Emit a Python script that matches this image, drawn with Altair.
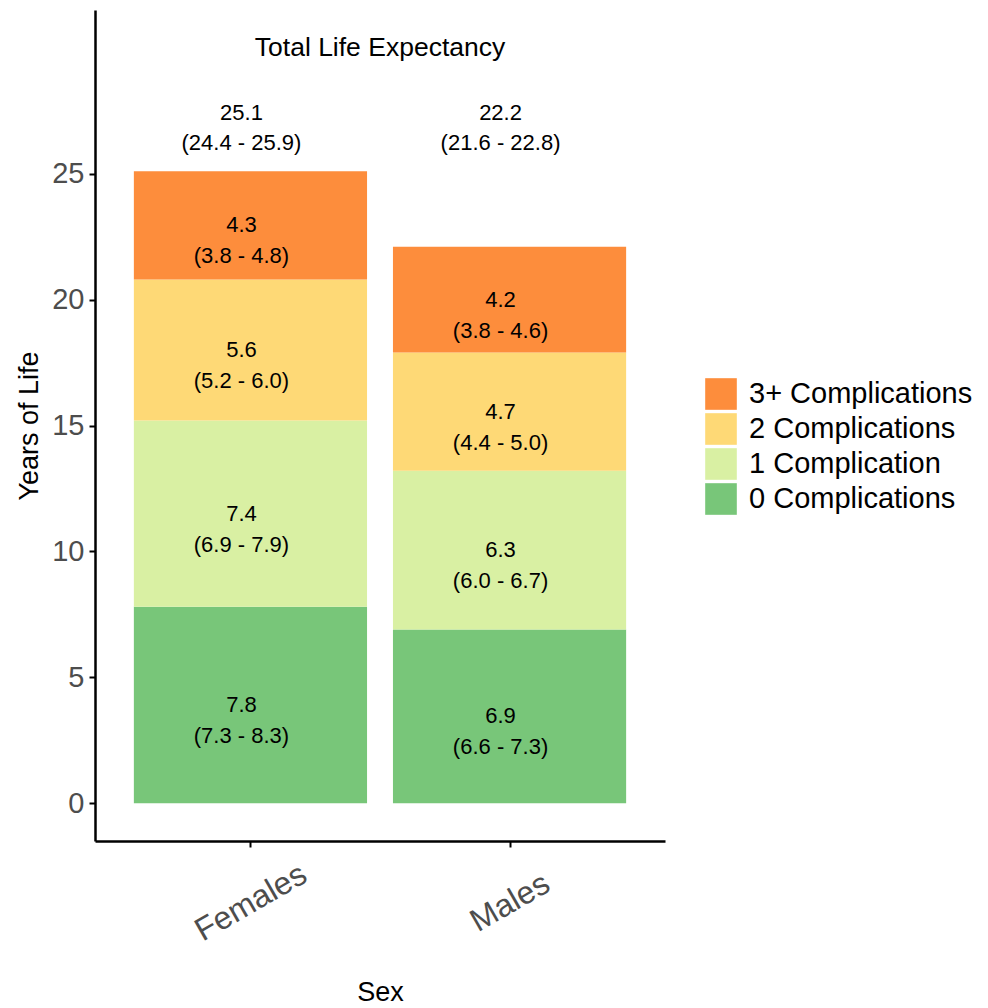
import json

import altair as alt
import pandas as pd

# Healthy-years decomposition by sex and number of complications
sexes = ["Females", "Males"]
levels = ["0 Complications", "1 Complication", "2 Complications", "3+ Complications"]
level_colors = ["#78C679", "#D9F0A3", "#FED976", "#FD8D3C"]

female_est = [7.8, 7.4, 5.6, 4.3]
female_lo = [7.3, 6.9, 5.2, 3.8]
female_hi = [8.3, 7.9, 6.0, 4.8]

male_est = [6.9, 6.3, 4.7, 4.2]
male_lo = [6.6, 6.0, 4.4, 3.8]
male_hi = [7.3, 6.7, 5.0, 4.6]

total_est = [25.1, 22.2]
total_lo = [24.4, 21.6]
total_hi = [25.9, 22.8]

y_ticks = [0, 5, 10, 15, 20, 25]
title_text = "Total Life Expectancy"
title_y = 30
total_label_y = 27.4

FONT = "Liberation Sans"
BAR_HALF = 0.45
W, H = 570, 831


def fmt_ci(lo, hi):
    return f"({lo:.1f} - {hi:.1f})"


rows = []
for i, (sex, est, lo, hi) in enumerate(
    zip(sexes, [female_est, male_est], [female_lo, male_lo], [female_hi, male_hi])
):
    base = 0.0
    for k, lev in enumerate(levels):
        top = base + est[k]
        rows.append(
            dict(
                sex=sex,
                pos=i + 1,
                level=lev,
                base=base,
                top=top,
                mid=(base + top) / 2,
                value=f"{est[k]:.1f}",
                ci=fmt_ci(lo[k], hi[k]),
            )
        )
        base = top
segments = pd.DataFrame(rows)

totals = pd.DataFrame(
    dict(
        pos=[i + 1 for i in range(len(sexes))],
        y=[total_label_y] * len(sexes),
        value=[f"{v:.1f}" for v in total_est],
        ci=[fmt_ci(a, b) for a, b in zip(total_lo, total_hi)],
    )
)

heading = pd.DataFrame(
    dict(pos=[(1 + len(sexes)) / 2], y=[title_y], text=[title_text])
)

x_scale = alt.Scale(domain=[0.4, len(sexes) + 0.6], nice=False, zero=False)
y_scale = alt.Scale(domain=[-1.5, 31.5], nice=False, zero=False)

x_axis = alt.Axis(
    title="Sex",
    values=[i + 1 for i in range(len(sexes))],
    labelExpr=f"{json.dumps(sexes)}[datum.value - 1]",
    labelAngle=-30,
    labelAlign="center",
    labelBaseline="middle",
    labelPadding=55,
    labelFontSize=32,
    labelColor="#4D4D4D",
    labelFont=FONT,
    labelFlush=False,
    labelOverlap=False,
    labelBound=False,
    tickSize=6,
    tickWidth=2,
    tickColor="black",
    domainColor="black",
    domainWidth=2.5,
    grid=False,
    titleFont=FONT,
    titleFontSize=27,
    titleFontWeight="normal",
    titleColor="black",
    titlePadding=33,
)

y_axis = alt.Axis(
    title="Years of Life",
    values=y_ticks,
    labelPadding=5,
    labelFontSize=29,
    labelColor="#4D4D4D",
    labelFont=FONT,
    labelFlush=False,
    labelOverlap=False,
    tickSize=6,
    tickWidth=2,
    tickColor="black",
    domainColor="black",
    domainWidth=2.5,
    grid=False,
    titleFont=FONT,
    titleFontSize=27,
    titleFontWeight="normal",
    titleColor="black",
    titlePadding=8,
)

bars = (
    alt.Chart(segments)
    .transform_calculate(x0=f"datum.pos - {BAR_HALF}", x1=f"datum.pos + {BAR_HALF}")
    .mark_rect()
    .encode(
        x=alt.X("x0:Q", scale=x_scale, axis=x_axis),
        x2="x1:Q",
        y=alt.Y("base:Q", scale=y_scale, axis=y_axis),
        y2="top:Q",
        color=alt.Color(
            "level:N",
            scale=alt.Scale(domain=levels[::-1], range=level_colors[::-1]),
            legend=alt.Legend(
                title=None,
                orient="none",
                legendX=610,
                legendY=368,
                padding=0,
                symbolType="square",
                symbolSize=1000,
                symbolStrokeWidth=0,
                rowPadding=3,
                labelOffset=12,
                labelLimit=0,
                labelFont=FONT,
                labelFontSize=29,
                labelColor="black",
            ),
        ),
    )
)

# labels sit slightly left of the bar centres
seg_text = dict(font=FONT, fontSize=22, color="black", align="center", baseline="middle", dx=-9)

seg_values = alt.Chart(segments).mark_text(**seg_text).encode(
    x=alt.X("pos:Q", scale=x_scale), y=alt.Y("mid:Q", scale=y_scale), text="value:N"
)
seg_cis = alt.Chart(segments).mark_text(dy=31, **seg_text).encode(
    x=alt.X("pos:Q", scale=x_scale), y=alt.Y("mid:Q", scale=y_scale), text="ci:N"
)
tot_values = alt.Chart(totals).mark_text(**seg_text).encode(
    x=alt.X("pos:Q", scale=x_scale), y=alt.Y("y:Q", scale=y_scale), text="value:N"
)
tot_cis = alt.Chart(totals).mark_text(dy=30, **seg_text).encode(
    x=alt.X("pos:Q", scale=x_scale), y=alt.Y("y:Q", scale=y_scale), text="ci:N"
)
head = alt.Chart(heading).mark_text(
    font=FONT, fontSize=26.5, color="black", align="center", baseline="middle"
).encode(x=alt.X("pos:Q", scale=x_scale), y=alt.Y("y:Q", scale=y_scale), text="text:N")

chart = (
    alt.layer(bars, seg_values, seg_cis, tot_values, tot_cis, head)
    .properties(
        width=W,
        height=H,
        autosize=alt.AutoSizeParams(type="none"),
        padding={"left": 95, "top": 10, "right": 988 - 95 - W, "bottom": 1008 - 10 - H},
        background="white",
    )
    .configure_view(stroke=None)
)

chart.save("out.html", embed_options={"renderer": "svg", "actions": False})
